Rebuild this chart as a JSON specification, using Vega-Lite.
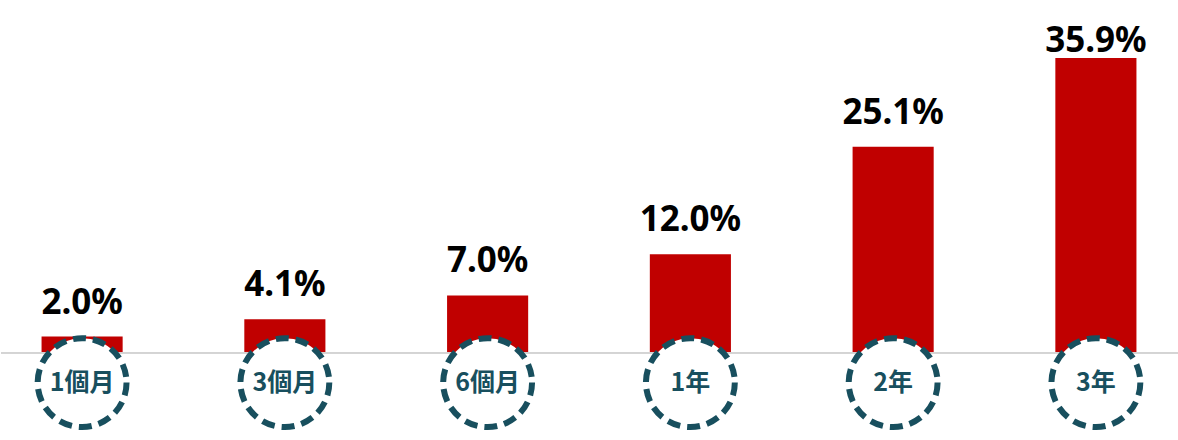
{
  "$schema": "https://vega.github.io/schema/vega-lite/v6.json",
  "width": 1178,
  "height": 440,
  "padding": 0,
  "autosize": {"type": "fit", "contains": "padding"},
  "background": "#ffffff",
  "data": {
    "values": [
      {"period": "1個月", "rate": 2.0, "label": "2.0%"},
      {"period": "3個月", "rate": 4.1, "label": "4.1%"},
      {"period": "6個月", "rate": 7.0, "label": "7.0%"},
      {"period": "1年", "rate": 12.0, "label": "12.0%"},
      {"period": "2年", "rate": 25.1, "label": "25.1%"},
      {"period": "3年", "rate": 35.9, "label": "35.9%"}
    ]
  },
  "encoding": {
    "x": {
      "field": "period",
      "type": "nominal",
      "sort": null,
      "axis": null,
      "scale": {"paddingInner": 0.6, "paddingOuter": 0.2}
    }
  },
  "layer": [
    {
      "mark": {"type": "bar", "color": "#C00000"},
      "encoding": {
        "y": {
          "field": "rate",
          "type": "quantitative",
          "axis": null,
          "scale": {"domain": [-10.58, 42.94], "nice": false, "zero": false}
        },
        "y2": {"datum": 0}
      }
    },
    {
      "mark": {"type": "rule", "color": "#d4d4d4", "strokeWidth": 1},
      "encoding": {
        "x": {"value": 0},
        "x2": {"value": 1178},
        "y": {"datum": 0}
      }
    },
    {
      "transform": [{"filter": "datum.rate < 30"}],
      "mark": {
        "type": "text",
        "font": "Noto Sans",
        "fontWeight": "bold",
        "fontSize": 35,
        "color": "#000000",
        "baseline": "alphabetic",
        "dy": -23
      },
      "encoding": {
        "y": {"field": "rate", "type": "quantitative"},
        "text": {"field": "label"}
      }
    },
    {
      "transform": [{"filter": "datum.rate >= 30"}],
      "mark": {
        "type": "text",
        "font": "Noto Sans",
        "fontWeight": "bold",
        "fontSize": 35,
        "color": "#000000",
        "baseline": "alphabetic",
        "dy": -6
      },
      "encoding": {
        "y": {"field": "rate", "type": "quantitative"},
        "text": {"field": "label"}
      }
    },
    {
      "mark": {
        "type": "point",
        "shape": "circle",
        "size": 7900,
        "filled": true,
        "fill": "#ffffff",
        "fillOpacity": 1,
        "stroke": "#184F5E",
        "strokeWidth": 6,
        "strokeDash": [13, 7],
        "opacity": 1
      },
      "encoding": {
        "y": {"datum": -3.6}
      }
    },
    {
      "mark": {
        "type": "text",
        "font": "Noto Sans CJK TC",
        "fontWeight": "bold",
        "fontSize": 25,
        "color": "#184F5E",
        "baseline": "middle"
      },
      "encoding": {
        "y": {"datum": -3.6},
        "text": {"field": "period"}
      }
    }
  ],
  "config": {
    "view": {"stroke": null}
  }
}
